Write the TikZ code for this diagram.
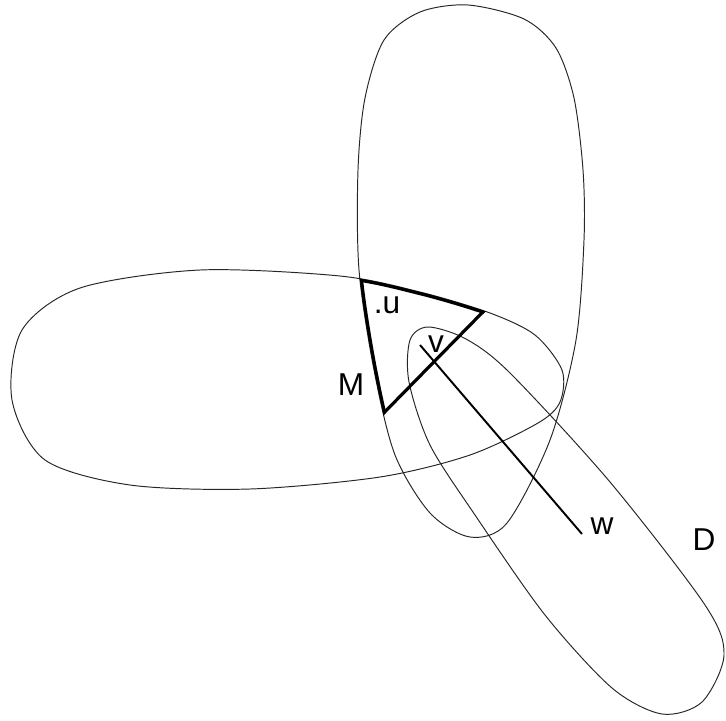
\documentclass[tikz,border=0pt]{standalone}
\usepackage{fontspec}
\setmainfont{Liberation Sans}
\usetikzlibrary{positioning}

% outlines of the three regions (pixel grid, y downwards)
\def\vertoval{plot[smooth cycle] coordinates {(468,5) (524,19) (556,48) (574,98) (583,170) (584,240) (576,340) (550,440) (507,523) (470,537) (430,513) (395,455) (374,370) (359,270) (358,170) (365,98) (384,40) (420,12)}}
\def\horoval{plot[smooth cycle] coordinates {(200,270) (340,276) (420,292) (490,313) (535,335) (562,370) (560,402) (538,423) (470,455) (380,477) (250,489) (130,485) (45,460) (12,400) (22,330) (80,288)}}
\def\diagoval{plot[smooth cycle] coordinates {(428,327) (466,339) (510,373) (610,482) (705,605) (724,655) (702,702) (662,714) (612,688) (545,615) (475,515) (430,445) (409,382) (410,340)}}

\begin{document}
\begin{tikzpicture}[
  x=0.02cm, y=-0.02cm,
  font=\fontsize{18}{20}\selectfont,
  oval/.style={draw=black!85,line width=0.55pt},
  rim/.style={draw=black,line width=3.6pt},
  ray/.style={draw=black,line width=1.1pt},
  lbl/.style={inner sep=0pt},
]
\useasboundingbox (0,0) rectangle (726,720);

\draw[oval] \vertoval;
\draw[oval] \horoval;
\draw[oval] \diagoval;

\coordinate (mtop) at (360,279);
\coordinate (mright) at (487,310);
\coordinate (mbot) at (383,416);

% thick border of M (inner half of a doubled line)
\begin{scope}
  \clip \vertoval;
  \clip \horoval;
  \clip (591,204) -- (279,522) -- (0,522) -- (0,0) -- (591,0) -- cycle;
  \draw[rim] \vertoval;
  \draw[rim] \horoval;
  \draw[rim] (mright) -- (mbot);
\end{scope}

\coordinate (vend) at (420,345);
\coordinate (wend) at (582,534);
\draw[ray] (vend) -- (wend);

\node[lbl] (u) at (387,305) {.u};
\node[lbl] (v) at (436,344) {v};
\node[lbl] (w) at (602,526) {w};
\node[lbl] (M) at (351,385) {M};
\node[lbl] (D) at (704,540) {D};

\end{tikzpicture}
\end{document}
